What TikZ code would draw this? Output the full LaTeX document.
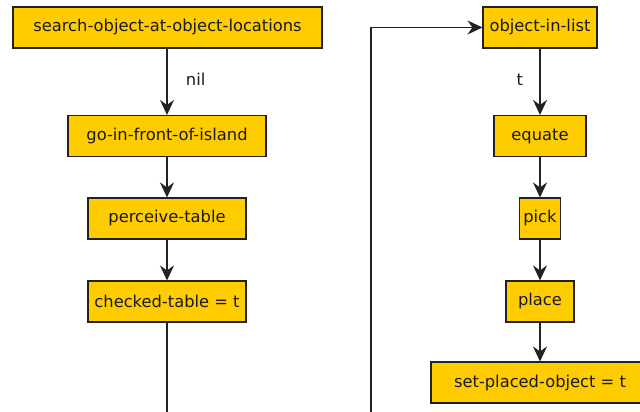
\documentclass[tikz,border=0pt]{standalone}
\usepackage{fontspec}
\setmainfont{DejaVu Sans}
\usetikzlibrary{arrows.meta}
\definecolor{boxfill}{HTML}{FFCC00}
\definecolor{edge}{HTML}{222222}
\tikzset{
  stepbox/.style={draw=edge, line width=1.1pt, fill=boxfill, minimum height=41pt,
    inner sep=0pt, text=black!90, font=\fontsize{16.3}{18}\selectfont},
  flow/.style={draw=edge, line width=1.3pt, -{Stealth[length=15pt, width=14pt, inset=5pt]}},
  plain/.style={draw=edge, line width=1.3pt},
  lbl/.style={font=\fontsize{16.3}{18}\selectfont, text=black!90}
}
\begin{document}
\begin{tikzpicture}[x=1pt, y=-1pt]
\useasboundingbox (0,0) rectangle (640,412);
\begin{scope}
\clip (0,0) rectangle (640,412);
% left column
\node[stepbox, minimum width=309pt] (search) at (167.5,27.5) {search-object-at-object-locations};
\node[stepbox, minimum width=198pt] (front) at (167,136) {go-in-front-of-island};
\node[stepbox, minimum width=158pt] (perceive) at (167,218.5) {perceive-table};
\node[stepbox, minimum width=158pt] (checked) at (167,301.5) {checked-table = t};
\coordinate (leftend) at (167,414);
% right column
\node[stepbox, minimum width=114pt] (inlist) at (540,27.5) {object-in-list};
\node[stepbox, minimum width=92pt] (equate) at (540,136) {equate};
\node[stepbox, minimum width=41pt] (pick) at (540,218.5) {pick};
\node[stepbox, minimum width=68pt] (place) at (540,301.5) {place};
\node[stepbox, minimum width=218pt] (placed) at (540,382.5) {set-placed-object = t};
\coordinate (loopstart) at (371,414);
\coordinate (loopcorner) at (371,27.5);

% connectors
\draw[flow] (search.south -| front.north) -- node[lbl, right=15pt, pos=0.47] {nil} (front.north);
\draw[flow] (front) -- (perceive);
\draw[flow] (perceive) -- (checked);
\draw[plain] (checked) -- (leftend);

\draw[flow] (inlist) -- node[lbl, left=13pt, pos=0.47] {t} (equate);
\draw[flow] (equate) -- (pick);
\draw[flow] (pick) -- (place);
\draw[flow] (place) -- (placed);
\draw[flow] (loopstart) -- (loopcorner) -- (inlist.west);
\end{scope}
\end{tikzpicture}
\end{document}
